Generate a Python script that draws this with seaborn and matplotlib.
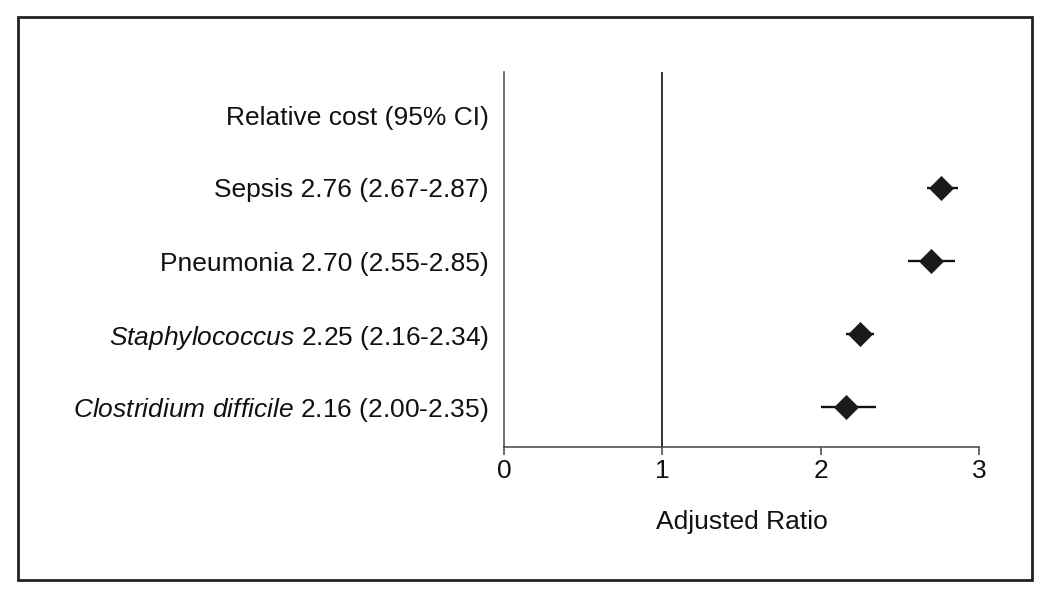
import matplotlib
matplotlib.use("Agg")
import matplotlib.pyplot as plt
import seaborn as sns
import pandas as pd
from matplotlib.patches import Rectangle

# Data
conditions = ["Sepsis", "Pneumonia", "Staphylococcus", "Clostridium difficile"]
italic = [False, False, True, True]
estimates = [2.76, 2.70, 2.25, 2.16]
ci_low = [2.67, 2.55, 2.16, 2.00]
ci_high = [2.87, 2.85, 2.34, 2.35]
header = "Relative cost (95% CI)"
x_ticks = [0, 1, 2, 3]

sns.set_style("white")
FONT = "Liberation Sans"
plt.rcParams["font.family"] = [FONT, "DejaVu Sans"]
plt.rcParams["mathtext.fontset"] = "custom"
plt.rcParams["mathtext.it"] = FONT + ":italic"
plt.rcParams["mathtext.rm"] = FONT
plt.rcParams["text.color"] = "#111111"
plt.rcParams["xtick.color"] = "#111111"
plt.rcParams["ytick.color"] = "#111111"
plt.rcParams["axes.labelcolor"] = "#111111"

FS = 19

fig = plt.figure(figsize=(10.5, 5.98), dpi=100)
ax = fig.add_axes([504/1050, 1-447/598, (979-504)/1050, (447-72)/598])

n = len(conditions)
ypos = [n - 1 - i for i in range(n)]  # Sepsis top
df = pd.DataFrame({"cond": conditions, "est": estimates, "lo": ci_low,
                   "hi": ci_high, "y": ypos})

ax.hlines(df["y"], df["lo"], df["hi"], color="#111111", lw=1.7, zorder=2)
sns.scatterplot(data=df, x="est", y="y", marker="D", s=150, color="#1a1a1a",
                edgecolor="#1a1a1a", linewidth=0.5, ax=ax, zorder=3, legend=False)

ax.axvline(1, color="#222222", lw=1.3, zorder=1)

labels = []
for c, it, e, lo, hi in zip(conditions, italic, estimates, ci_low, ci_high):
    num = f"{e:.2f} ({lo:.2f}-{hi:.2f})"
    if it:
        labels.append(r"$\it{" + c.replace(" ", r"\ ") + "}$ " + num)
    else:
        labels.append(f"{c} {num}")

yt = ypos + [n]
ax.set_yticks(yt)
ax.set_yticklabels(labels + [header], fontsize=FS)
ax.tick_params(axis="y", length=0, pad=11)

ax.set_xlim(0, 3)
ax.set_ylim(-40/73, n + (115-72)/73)
ax.set_xticks(x_ticks)
ax.set_xticklabels([str(t) for t in x_ticks], fontsize=FS)
ax.tick_params(axis="x", direction="out", length=6, width=1.1, color="#444444",
               pad=3, bottom=True, labelcolor="#111111")
ax.set_xlabel("Adjusted Ratio", fontsize=FS, labelpad=19)
ax.set_ylabel("")

for s in ["top", "right"]:
    ax.spines[s].set_visible(False)
for s in ["left", "bottom"]:
    ax.spines[s].set_color("#444444")
    ax.spines[s].set_linewidth(1.1)

fig.patches.append(Rectangle((18/1050, 1-580/598), (1032-18)/1050, (580-17)/598,
                             transform=fig.transFigure, fill=False,
                             edgecolor="#222222", lw=2.0))

fig.savefig("out.png", dpi=100)
